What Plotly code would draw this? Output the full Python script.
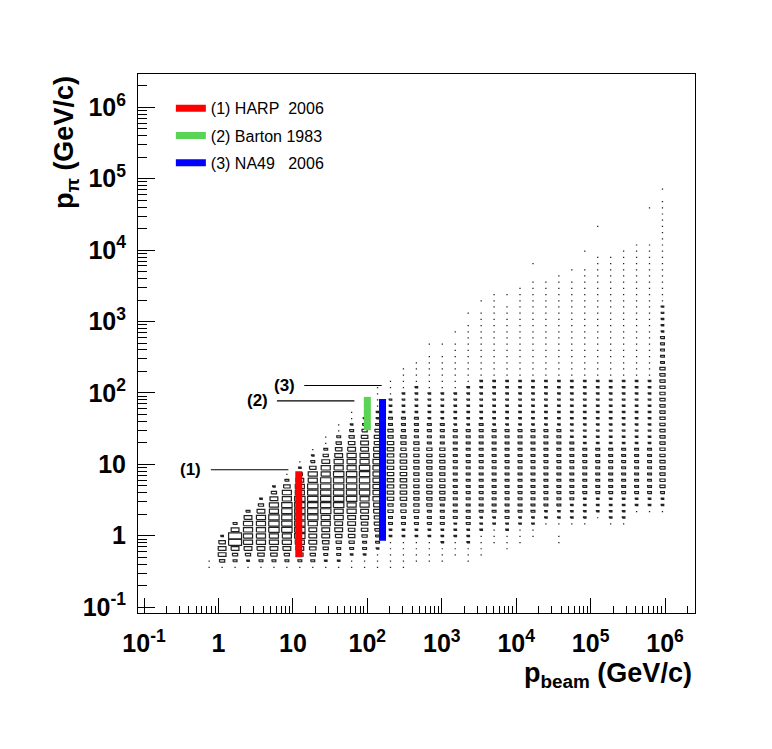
import numpy as np
import plotly.graph_objects as go

# log10 of the p_beam bin centres (GeV/c), one per histogram column
lg_pbeam = [-0.125, 0.049, 0.223, 0.397, 0.571, 0.745, 0.919, 1.093, 1.267,
            1.441, 1.615, 1.789, 1.963, 2.137, 2.311, 2.485, 2.659, 2.833,
            3.007, 3.181, 3.355, 3.529, 3.703, 3.877, 4.051, 4.225, 4.399,
            4.573, 4.747, 4.921, 5.095, 5.269, 5.443, 5.617, 5.791, 5.965]

# log10 of the p_pi bin centres (GeV/c), one per histogram row
lg_ppi = [-0.438, -0.351, -0.264, -0.178, -0.091, -0.004, 0.083, 0.170, 0.256,
          0.343, 0.430, 0.517, 0.604, 0.690, 0.777, 0.864, 0.951, 1.038,
          1.124, 1.211, 1.298, 1.385, 1.472, 1.558, 1.645, 1.732, 1.819,
          1.906, 1.992, 2.079, 2.166, 2.253, 2.340, 2.426, 2.513, 2.600,
          2.687, 2.774, 2.860, 2.947, 3.034, 3.121, 3.208, 3.294, 3.381,
          3.468, 3.555, 3.642, 3.728, 3.815, 3.902, 3.989, 4.076, 4.162,
          4.249, 4.336, 4.423, 4.510, 4.596, 4.683, 4.770, 4.857]

# lowest filled row of each column
first_row = [0, 0, 0, 0, 0, 0, 0, 0, 0, 0, 0, 0, 0, 0,
             0, 0, 1, 1, 1, 2, 1, 2, 4, 3, 4, 5, 7, 4, 7, 7, 8, 7, 7, 9, 9, 9]

# box size per cell, bottom row upwards (hex digit = tenths of the bin, 0 = empty)
cells = [
    "11",
    "146652",
    "1346AA63",
    "1246777763",
    "135677777642",
    "13567788877642",
    "1346778888877531",
    "135678888888776421",
    "13456667888888775321",
    "1234566778888887764311",
    "123345667788888877654311",
    "11234556677888887776543211",
    "1123345566778888877665432111",
    "111233455667777777665543221111",
    "11111223344" "5555555555" "4433222111",
    "1111122334" "4555555554" "4433322221111",
    "1111223344" "4444444444" "3333222221111",
    "1111223334" "4444444443" "33322222111" "11101",
    "1112223333" "4444444443" "3332222211" "111101",
    "111222333" "3333333333" "3322222211" "11111101",
    "1112223333" "3333333333" "3322222221" "11111111101",
    "111122233" "3333333333" "3332222222" "1111111111101",
    "1112233" "3333333333" "3322222222" "11111111111111",
    "11122333" "3333333333" "3322222222" "11111111111101",
    "1112233" "3333333333" "3322222222" "111111111111111",
    "112233" "3333333333" "3322222222" "1111111111111111" "001",
    "1223" "3333333333" "3322222222" "1111111111111111",
    "1101223" "3333333333" "3322222222" "11111111111111111",
    "1222" "3333333333" "2222222222" "111111111111111101",
    "1222" "2333333332" "2222222222" "1111111111111111" "11001",
    "122" "2333333332" "2222222222" "11111111111111111111" "00001",
    "1222" "2333333332" "2222222222" "11111111111111111111",
    "1222" "2333333332" "2222222222" "111111111111111111111",
    "12" "2333333332" "2222222222" "1111111111111111111111",
    "12" "2333333332" "2222222222" "1111111111111111111111" "000001",
    "1223" "4444444444" "4444444444" "3333322222" "1111111111" "111111101",
]

# measured ranges drawn on top
exp_names = ["(1) HARP\u00a0\u00a02006", "(2) Barton 1983", "(3) NA49\u00a0\u00a0\u00a02006"]
exp_pbeam = [12.0, 100.0, 160.0]
exp_ppi_lo = [0.5, 30.0, 0.85]
exp_ppi_hi = [8.0, 88.0, 82.0]
exp_colors = ["#ff0000", "#59d454", "#0000ff"]

# numbered pointer lines
tag_text = ["(1)", "(2)", "(3)"]
tag_x = [0.425, 3.35, 7.66]
tag_line_x0 = [0.79, 6.1, 14.2]
tag_line_x1 = [8.7, 67.0, 156.0]
tag_y = [8.4, 77.5, 127.0]

decades = [-1, 0, 1, 2, 3, 4, 5, 6]
decade_text = ["10<sup>-1</sup>", "1", "10", "10<sup>2</sup>", "10<sup>3</sup>",
               "10<sup>4</sup>", "10<sup>5</sup>", "10<sup>6</sup>"]

# build the box outlines
hw = np.diff(lg_pbeam).mean() / 2
hh = np.diff(lg_ppi).mean() / 2
bx, by = [], []
for j, col in enumerate(cells):
    for i, c in enumerate(col):
        f = int(c, 16) / 10
        if f == 0:
            continue
        cx = lg_pbeam[j]
        cy = lg_ppi[first_row[j] + i]
        xl, xr = 10 ** (cx - f * hw), 10 ** (cx + f * hw)
        yl, yu = 10 ** (cy - f * hh), 10 ** (cy + f * hh)
        bx += [xl, xr, xr, xl, xl, None]
        by += [yl, yl, yu, yu, yl, None]

fig = go.Figure()
fig.add_trace(go.Scatter(x=bx, y=by, mode="lines", line=dict(color="#222222", width=1.2),
                         hoverinfo="skip", showlegend=False))

for i in range(3):
    fig.add_trace(go.Scatter(x=[tag_line_x0[i], tag_line_x1[i]], y=[tag_y[i], tag_y[i]],
                             mode="lines", line=dict(color="black", width=1.2),
                             showlegend=False))
    fig.add_annotation(x=np.log10(tag_x[i]), y=np.log10(tag_y[i]), text="<b>%s</b>" % tag_text[i],
                       showarrow=False, xanchor="center", yanchor="middle",
                       font=dict(family="Liberation Sans", size=17, color="black"))

for i in range(3):
    fig.add_trace(go.Scatter(x=[exp_pbeam[i], exp_pbeam[i]], y=[exp_ppi_lo[i], exp_ppi_hi[i]],
                             mode="lines", name=exp_names[i], legendgroup=str(i),
                             line=dict(color=exp_colors[i], width=7)))

minor_vals = [m * 10.0 ** d for d in decades for m in range(2, 10)]
axis_common = dict(type="log", showline=True, linecolor="black", linewidth=1, mirror=True,
                   showgrid=False, zeroline=False, ticks="inside", tickwidth=1,
                   tickcolor="black", tickvals=[10.0 ** d for d in decades],
                   ticktext=["<b>%s</b>" % t for t in decade_text], automargin=False,
                   tickfont=dict(family="Liberation Sans", size=25, color="black"))

# the page body keeps its 8px default margin, so the figure is 8px smaller
fig.update_layout(
    width=764, height=741,
    margin=dict(l=130, r=77, t=66, b=136),
    paper_bgcolor="white", plot_bgcolor="white",
    xaxis=dict(range=[-1.081, 6.402], ticklen=15, ticklabelstandoff=8,
               minor=dict(ticks="inside", ticklen=7.5, tickvals=minor_vals, tickcolor="black"),
               **axis_common),
    yaxis=dict(range=[-1.082, 6.466], ticklen=17, ticklabelstandoff=6,
               minor=dict(ticks="inside", ticklen=8.5, tickvals=minor_vals, tickcolor="black"),
               **axis_common),
    legend=dict(x=0.059, y=0.968, xanchor="left", yanchor="top", bgcolor="rgba(0,0,0,0)",
                font=dict(family="Liberation Sans", size=16, color="black"),
                itemwidth=30, tracegroupgap=3.5, traceorder="grouped"),
    annotations=list(fig.layout.annotations) + [
        dict(xref="paper", yref="paper", x=0.998, y=-0.08, xanchor="right", yanchor="top",
             text="<b>p<sub>beam</sub> (GeV/c)</b>", showarrow=False,
             font=dict(family="Liberation Sans", size=27, color="black")),
        dict(xref="paper", yref="paper", x=-0.13, y=1.0, xanchor="center", yanchor="top",
             text="<b>p<sub>\u03c0</sub> (GeV/c)</b>", showarrow=False, textangle=-90,
             font=dict(family="Liberation Sans", size=27, color="black")),
    ],
)

fig.write_html("out.html")
